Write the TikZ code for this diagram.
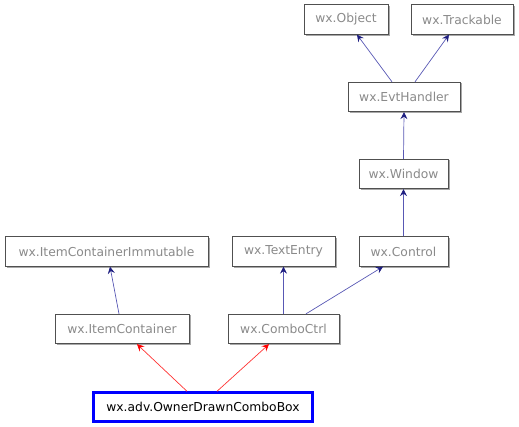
\documentclass[tikz,border=0pt]{standalone}
\usepackage{fontspec}
\setmainfont{DejaVu Sans}
\usetikzlibrary{arrows.meta,calc}
\definecolor{edgeblue}{HTML}{5858B4}
\definecolor{tipblue}{HTML}{1E1E80}
\definecolor{txtgray}{HTML}{8A8A8A}
\definecolor{bordergray}{HTML}{505050}
\definecolor{shadowgray}{HTML}{A8A8A8}
\begin{document}
\begin{tikzpicture}[x=1pt,y=1pt,
  cls/.style={draw=bordergray, line width=0.8pt, fill=white, text=txtgray,
    font=\fontsize{12.3}{13}\selectfont, minimum height=29.5pt, inner sep=0pt},
  shadowline/.style={draw=shadowgray, line width=1.4pt},
  mainbox/.style={draw=blue, line width=2.4pt, fill=white, text=black,
    font=\fontsize{12.3}{13}\selectfont, minimum height=29pt, inner sep=0pt},
  tip/.style={-{Stealth[length=7pt,width=7pt,inset=2.5pt,color=#1]}},
  inh/.style={draw=edgeblue, line width=0.7pt, tip=tipblue},
  inhred/.style={draw=red!80, line width=0.7pt, tip=red}]
\useasboundingbox (0,0) rectangle (519,-427);
% shadows
\foreach \cx/\cy/\w in {346/-19.5/84, 462/-19.5/102, 404/-97/112, 403.5/-174/89,
  106.5/-251.5/203, 283.5/-251.5/103, 403.5/-251.5/89, 122/-329/134, 283.5/-329/111}{
  \draw[shadowline] (\cx-\w/2+1.5,\cy-15.5) -- (\cx+\w/2+0.8,\cy-15.5) -- (\cx+\w/2+0.8,\cy+13.5);
}
\node[cls, minimum width=84pt] (obj) at (346,-19.5) {wx.Object};
\node[cls, minimum width=102pt] (trk) at (462,-19.5) {wx.Trackable};
\node[cls, minimum width=112pt] (evt) at (404,-97) {wx.EvtHandler};
\node[cls, minimum width=89pt] (win) at (403.5,-174) {wx.Window};
\node[cls, minimum width=203pt] (ici) at (106.5,-251.5) {wx.ItemContainerImmutable};
\node[cls, minimum width=103pt] (te) at (283.5,-251.5) {wx.TextEntry};
\node[cls, minimum width=89pt] (ctl) at (403.5,-251.5) {wx.Control};
\node[cls, minimum width=134pt] (ic) at (122,-329) {wx.ItemContainer};
\node[cls, minimum width=111pt] (cc) at (283.5,-329) {wx.ComboCtrl};
\node[mainbox, minimum width=219pt] (own) at (203,-407) {wx.adv.OwnerDrawnComboBox};
% edges
\draw[inh] ([xshift=-12pt]evt.north) -- ([xshift=11pt]obj.south);
\draw[inh] ([xshift=11pt]evt.north) -- ([xshift=-13pt]trk.south);
\draw[inh] (win.north) -- (evt.south);
\draw[inh] (ctl.north) -- (win.south);
\draw[inh] ([xshift=-3pt]ic.north) -- ([xshift=3.5pt]ici.south);
\draw[inh] (cc.north) -- (te.south);
\draw[inh] ([xshift=22.5pt]cc.north) -- ([xshift=-20.5pt]ctl.south);
\draw[inhred] ([xshift=-16pt]own.north) -- ([xshift=15pt]ic.south);
\draw[inhred] ([xshift=14pt]own.north) -- ([xshift=-14.5pt]cc.south);
\end{tikzpicture}
\end{document}
